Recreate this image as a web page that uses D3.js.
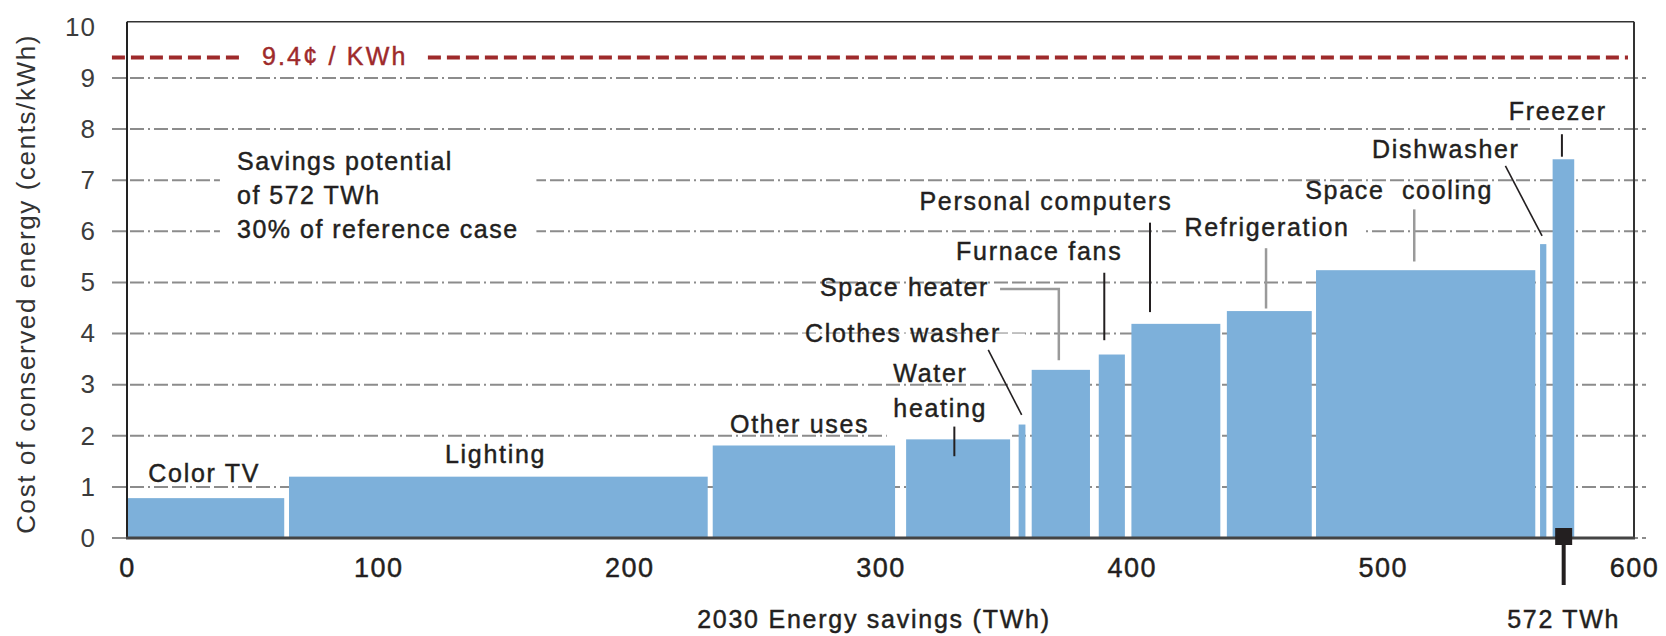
<!DOCTYPE html>
<html>
<head>
<meta charset="utf-8">
<script src="https://cdn.jsdelivr.net/npm/d3@7/dist/d3.min.js"></script>
<style>
  html, body { margin: 0; padding: 0; background: #fff; }
  svg { display: block; font-family: "Liberation Sans", Arial, sans-serif; }
  .thick { stroke: #231f20; stroke-width: 0.45px; }
</style>
</head>
<body>
<svg id="chart" width="1666" height="636"></svg>
<script>
// ---------------- DATA ----------------
const categories = ["Color TV", "Lighting", "Other uses", "Water heating", "Clothes washer",
  "Space heater", "Furnace fans", "Personal computers", "Refrigeration",
  "Space cooling", "Dishwasher", "Freezer"];
const startTWh = [0, 64.5, 233.2, 310.2, 355.0, 360.2, 386.9, 399.9, 437.9, 473.4, 562.6, 567.6];
const endTWh   = [62.6, 231.2, 305.8, 351.6, 357.7, 383.4, 397.3, 435.3, 471.7, 560.7, 565.1, 576.2];
const costCents = [0.78, 1.20, 1.81, 1.93, 2.22, 3.29, 3.59, 4.19, 4.44, 5.24, 5.75, 7.41];
const xTicks = [0, 100, 200, 300, 400, 500, 600];
const yTicks = [0, 1, 2, 3, 4, 5, 6, 7, 8, 9, 10];
const gridValues = [0, 1, 2, 3, 4, 5, 6, 7, 8, 9];
const thresholdCost = 9.4;
const thresholdLabel = "9.4¢ / KWh";
const totalSavings = 572;
const totalLabel = "572 TWh";
const noteLines = ["Savings potential", "of 572 TWh", "30% of reference case"];
const xTitle = "2030 Energy savings (TWh)";
const yTitle = "Cost of conserved energy (cents/kWh)";

// ---------------- LAYOUT ----------------
const svg = d3.select("#chart");
const x = d3.scaleLinear().domain([0, 600]).range([127, 1634]);
const y = d3.scaleLinear().domain([0, 10]).range([538, 26.9]);
const ink = "#231f20";
const barColor = "#7db0da";
const gridColor = "#8c8c8c";
const red = "#9e2a2b";

// label placement (data units: TWh, cents) – [text lines, x, baseline, lineGap(px)]
const labelPos = {
  "Color TV": [["Color TV"], 8.5, 1.10],
  "Lighting": [["Lighting"], 126.6, 1.46],
  "Other uses": [["Other uses"], 240.1, 2.06],
  "Water heating": [["Water", "heating"], 305.1, 3.06, 35],
  "Clothes washer": [["Clothes washer"], 269.9, 3.84],
  "Space heater": [["Space heater"], 275.9, 4.74],
  "Furnace fans": [["Furnace fans"], 330.1, 5.44],
  "Personal computers": [["Personal computers"], 315.5, 6.42],
  "Refrigeration": [["Refrigeration"], 421.0, 5.90],
  "Space cooling": [["Space  cooling"], 469.1, 6.63],
  "Dishwasher": [["Dishwasher"], 495.7, 7.43],
  "Freezer": [["Freezer"], 550.1, 8.18]
};
// leader lines: points in data units, colour
const leaders = [
  {pts: [[329.4, 2.18], [329.4, 1.60]], c: ink, w: 2},
  {pts: [[342.9, 3.68], [356.2, 2.41]], c: ink, w: 1.6},
  {pts: [[347.6, 4.87], [371.0, 4.87], [371.0, 3.48]], c: "#9a9a9a", w: 2.5},
  {pts: [[389.1, 5.19], [389.1, 3.87]], c: ink, w: 2},
  {pts: [[407.3, 6.17], [407.3, 4.42]], c: ink, w: 2},
  {pts: [[453.5, 5.67], [453.5, 4.49]], c: "#9a9a9a", w: 2.5},
  {pts: [[512.5, 6.43], [512.5, 5.41]], c: "#9a9a9a", w: 2.5},
  {pts: [[548.8, 7.28], [563.4, 5.91]], c: ink, w: 1.6},
  {pts: [[571.3, 7.90], [571.3, 7.46]], c: ink, w: 2}
];
// white masks behind some labels: [x0,x1 (TWh), yTop,yBottom (cents)]
const masks = [
  [37, 163, 7.55, 5.6],
  [267.5, 357.5, 4.0, 3.7],
  [418.9, 492.6, 6.2, 5.65],
  [302.5, 351.6, 2.9, 1.94]
];

// ---------------- GRID ----------------
const grid = svg.append("g");
grid.selectAll("line").data(gridValues).join("line")
  .attr("x1", x(0) - 15).attr("x2", x(600) + 12)
  .attr("y1", d => y(d)).attr("y2", d => y(d))
  .attr("stroke", gridColor).attr("stroke-width", 2)
  .attr("stroke-dasharray", "14,4,14,4,2,4");

// masks
svg.append("g").selectAll("rect").data(masks).join("rect")
  .attr("x", d => x(d[0])).attr("width", d => x(d[1]) - x(d[0]))
  .attr("y", d => y(d[2])).attr("height", d => y(d[3]) - y(d[2]))
  .attr("fill", "#fff");

// threshold line (split around label)
const thr = svg.append("g");
[[-6, 45], [119.8, 597.6]].forEach(seg => {
  thr.append("line")
    .attr("x1", x(seg[0])).attr("x2", x(seg[1]))
    .attr("y1", y(thresholdCost)).attr("y2", y(thresholdCost))
    .attr("stroke", red).attr("stroke-width", 4).attr("stroke-dasharray", "13,6");
});
thr.append("text")
  .attr("x", x(53.7)).attr("y", y(thresholdCost) + 7)
  .attr("fill", red).attr("stroke", red).attr("stroke-width", 0.45)
  .attr("font-size", 25).attr("letter-spacing", 2.2)
  .text(thresholdLabel);

// ---------------- BARS ----------------
const bars = categories.map((c, i) => ({c, s: startTWh[i], e: endTWh[i], v: costCents[i]}));
svg.append("g").selectAll("rect").data(bars).join("rect")
  .attr("x", d => x(d.s)).attr("width", d => x(d.e) - x(d.s))
  .attr("y", d => y(d.v)).attr("height", d => y(0) - y(d.v))
  .attr("fill", barColor);

// ---------------- FRAME ----------------
const frame = svg.append("g").attr("fill", "none");
frame.append("line").attr("x1", x(0)).attr("x2", x(600)).attr("y1", y(10.1)).attr("y2", y(10.1))
  .attr("stroke", "#333").attr("stroke-width", 1.6);
frame.append("line").attr("x1", x(0)).attr("x2", x(0)).attr("y1", y(10.1)).attr("y2", y(0))
  .attr("stroke", "#222").attr("stroke-width", 2);
frame.append("line").attr("x1", x(600)).attr("x2", x(600)).attr("y1", y(10.1)).attr("y2", y(0))
  .attr("stroke", "#333").attr("stroke-width", 2);
frame.append("line").attr("x1", x(0) - 1).attr("x2", x(600) + 1).attr("y1", y(0)).attr("y2", y(0))
  .attr("stroke", "#444").attr("stroke-width", 3);

// ---------------- AXES ----------------
const yAxis = svg.append("g").attr("transform", `translate(${x(0)},0)`)
  .call(d3.axisLeft(y).tickValues(yTicks).tickSize(0).tickPadding(31).tickFormat(d3.format("d")));
yAxis.select(".domain").remove();
yAxis.selectAll("text").attr("font-size", 26).attr("letter-spacing", 1)
  .attr("fill", "#3c3c3c").attr("font-family", "Liberation Sans, Arial, sans-serif");

const xAxis = svg.append("g").attr("transform", `translate(0,${y(0)})`)
  .call(d3.axisBottom(x).tickValues(xTicks).tickSize(0).tickPadding(20).tickFormat(d3.format("d")));
xAxis.select(".domain").remove();
xAxis.selectAll("text").attr("font-size", 27).attr("letter-spacing", 1.5)
  .attr("fill", ink).attr("class", "thick").attr("font-family", "Liberation Sans, Arial, sans-serif");

// titles
svg.append("text")
  .attr("transform", `translate(35,${(y(10.1) + y(0)) / 2 + 4}) rotate(-90)`)
  .attr("text-anchor", "middle").attr("font-size", 26).attr("letter-spacing", 1.6)
  .attr("fill", "#333").text(yTitle);
svg.append("text")
  .attr("x", x(227)).attr("y", 628).attr("class", "thick")
  .attr("font-size", 25).attr("letter-spacing", 1.75).attr("fill", ink).text(xTitle);

// ---------------- LEADERS ----------------
const lineGen = d3.line().x(d => x(d[0])).y(d => y(d[1]));
svg.append("g").selectAll("path").data(leaders).join("path")
  .attr("d", d => lineGen(d.pts)).attr("fill", "none")
  .attr("stroke", d => d.c).attr("stroke-width", d => d.w);

// ---------------- LABELS ----------------
const lab = svg.append("g").attr("font-size", 25).attr("letter-spacing", 1.7)
  .attr("fill", ink).attr("class", "thick");
categories.forEach(c => {
  const p = labelPos[c];
  const t = lab.append("text").attr("x", x(p[1])).attr("y", y(p[2])).attr("xml:space", "preserve");
  p[0].forEach((ln, j) => {
    t.append("tspan").attr("x", x(p[1])).attr("dy", j === 0 ? 0 : p[3]).text(ln);
  });
});

// note block
const note = svg.append("text").attr("x", x(43.8)).attr("y", y(7.20)).attr("class", "thick")
  .attr("font-size", 25).attr("letter-spacing", 1.5).attr("fill", ink);
noteLines.forEach((ln, j) => {
  note.append("tspan").attr("x", x(43.8)).attr("dy", j === 0 ? 0 : 34).text(ln);
});

// ---------------- TOTAL MARKER ----------------
svg.append("rect")
  .attr("x", x(totalSavings) - 8.5).attr("y", y(0) - 10)
  .attr("width", 17).attr("height", 17).attr("fill", ink);
svg.append("line")
  .attr("x1", x(totalSavings)).attr("x2", x(totalSavings))
  .attr("y1", y(0) + 6).attr("y2", y(0) + 47)
  .attr("stroke", ink).attr("stroke-width", 4);
svg.append("text")
  .attr("x", x(totalSavings)).attr("y", 628).attr("text-anchor", "middle").attr("class", "thick")
  .attr("font-size", 25).attr("letter-spacing", 1.7).attr("fill", ink).text(totalLabel);
</script>
</body>
</html>
